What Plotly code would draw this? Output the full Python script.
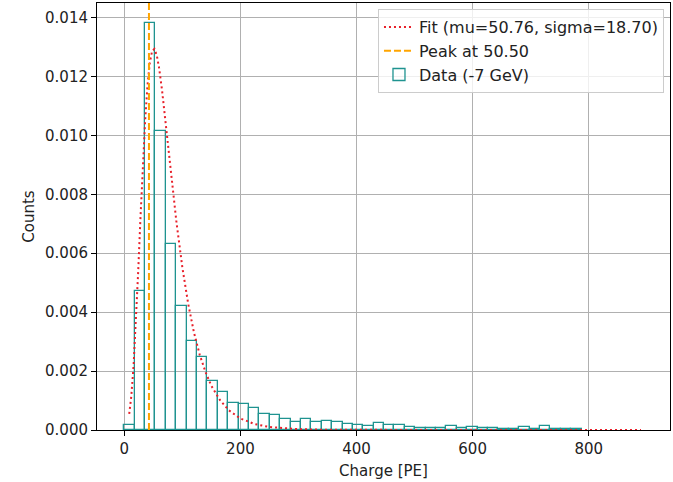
import plotly.graph_objects as go

# ---- data ----
bin_start = 0.0
bin_width = 17.9
hist_values = [
    0.00016, 0.00471, 0.01380, 0.01015, 0.00631, 0.00421, 0.00303, 0.00248,
    0.00165, 0.00129, 0.00090, 0.00087, 0.00075, 0.00056, 0.00051, 0.00036,
    0.00027, 0.00038, 0.00027, 0.00032, 0.00026, 0.00019, 0.00017, 0.00015,
    0.00024, 0.00016, 0.00016, 0.00010, 0.00008, 0.00008, 0.00007, 0.00014,
    0.00007, 0.00011, 0.00006, 0.00006, 0.00005, 0.00005, 0.00009, 0.00004,
    0.00015, 0.00004, 0.00004, 0.00003, 0.0, 0.0, 0.0, 0.0, 0.0, 0.0,
]

fit_x = [8.5, 12, 16, 20, 24, 28, 32, 36, 40, 44, 48, 52, 56, 60, 65, 70, 75,
         80, 85, 90, 100, 110, 120, 130, 140, 150, 165, 180, 200, 225, 250,
         300, 350, 400, 500, 600, 700, 800, 890]
fit_y = [0.00055, 0.00113, 0.00218, 0.00364, 0.00539, 0.00725, 0.00901,
         0.01053, 0.01170, 0.01247, 0.01287, 0.01293, 0.01271, 0.01228,
         0.01154, 0.01067, 0.00973, 0.00879, 0.00788, 0.00703, 0.00552,
         0.00429, 0.00331, 0.00255, 0.00196, 0.00150, 0.00101, 0.00067,
         0.00039, 0.00020, 0.00010, 0.000027, 0.000007, 0.000002, 0.0, 0.0,
         0.0, 0.0, 0.0]

peak_x = 42.5
y_top = 0.01449

fit_label = "Fit (mu=50.76, sigma=18.70)"
peak_label = "Peak at 50.50"
data_label = "Data (-7 GeV)"

# drop empty bins (matplotlib draws nothing for them)
bar_x, bar_y = [], []
for i, v in enumerate(hist_values):
    if v > 0:
        bar_x.append(bin_start + bin_width * (i + 0.5))
        bar_y.append(v)

FS = 15

fig = go.Figure()
fig.add_trace(go.Bar(
    x=bar_x, y=bar_y, width=bin_width, name=data_label,
    marker=dict(color="rgba(0,0,0,0)", line=dict(color="#1f9390", width=1.3)),
    legendrank=3,
))
fig.add_trace(go.Scatter(
    x=fit_x, y=fit_y, mode="lines", name=fit_label,
    line=dict(color="#e8202a", width=2, dash="2px,3px"),
    legendrank=1,
))
fig.add_trace(go.Scatter(
    x=[peak_x, peak_x], y=[0, y_top], mode="lines", name=peak_label,
    line=dict(color="#ffa500", width=2, dash="7px,3px"),
    legendrank=2,
))

axis_common = dict(
    showline=True, linecolor="black", linewidth=1, mirror=True,
    ticks="outside", ticklen=5, tickwidth=1, tickcolor="black",
    showgrid=True, gridcolor="#b0b0b0", gridwidth=1, zeroline=False,
    tickfont=dict(size=FS, color="#222222"), automargin=False,
)

fig.update_layout(
    width=673, height=482,
    margin=dict(l=97, r=3, t=3, b=52),
    paper_bgcolor="white", plot_bgcolor="white",
    font=dict(family="DejaVu Sans", size=FS, color="#222222"),
    bargap=0,
    showlegend=True,
    legend=dict(
        x=0.9895, y=0.986, xanchor="right", yanchor="top",
        bgcolor="rgba(255,255,255,0.8)", bordercolor="#cccccc", borderwidth=1,
        font=dict(size=16), itemwidth=30,
    ),
    xaxis=dict(range=[-47, 940], tickvals=[0, 200, 400, 600, 800],
               title=dict(text="Charge [PE]", standoff=8, font=dict(size=FS)),
               **axis_common),
    yaxis=dict(range=[0, y_top], dtick=0.002, tickformat=".3f",
               title=dict(text="Counts", standoff=6, font=dict(size=FS)),
               **axis_common),
)

fig.write_html("out.html", config={"displayModeBar": False},
               post_script="document.body.style.margin='0';")
